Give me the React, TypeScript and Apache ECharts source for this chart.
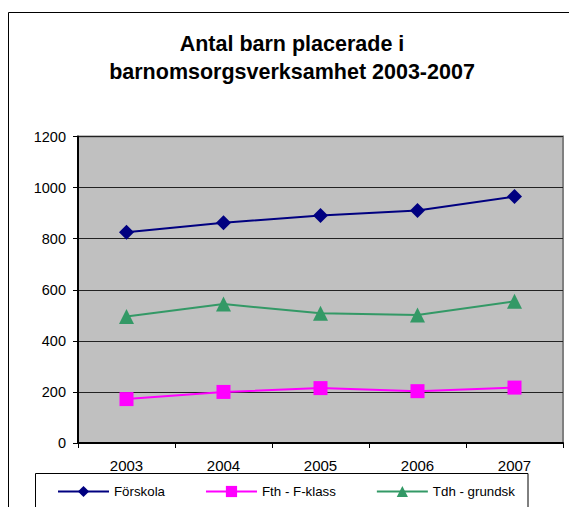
import React, { useEffect, useRef } from "react";
import * as echarts from "echarts";

const titleLines = ["Antal barn placerade i", "barnomsorgsverksamhet 2003-2007"];
const categories = ["2003", "2004", "2005", "2006", "2007"];
const forskola = [825, 863, 891, 911, 965];
const fthFklass = [172, 200, 215, 203, 217];
const tdhGrundsk = [495, 544, 508, 501, 555];
const seriesNames = ["Förskola", "Fth - F-klass", "Tdh - grundsk"];
const yMin = 0;
const yMax = 1200;
const yInterval = 200;

const FONT = "'Liberation Sans', Arial, sans-serif";

export default function App() {
  const ref = useRef<HTMLDivElement>(null);
  useEffect(() => {
    if (!ref.current) return;
    const chart = echarts.init(ref.current, null, { renderer: "svg" });
    chart.setOption({
      animation: false,
      backgroundColor: "#ffffff",
      textStyle: { fontFamily: FONT },
      title: {
        text: titleLines.join("\n"),
        left: 292,
        top: 30,
        padding: 0,
        textAlign: "center",
        textStyle: {
          fontFamily: FONT,
          fontSize: 21.5,
          fontWeight: "bold",
          color: "#000",
          lineHeight: 28,
        },
      },
      graphic: [
        {
          type: "rect",
          shape: { x: 8.5, y: 12.5, width: 620, height: 620 },
          style: { fill: "none", stroke: "#000", lineWidth: 1 },
          silent: true,
          z: 0,
        },
        {
          type: "rect",
          shape: { x: 35.5, y: 473.5, width: 492.5, height: 60 },
          style: { fill: "none", stroke: "#000", lineWidth: 1 },
          silent: true,
          z: 0,
        },
      ],
      legend: {
        left: 57,
        top: 485,
        padding: 0,
        itemWidth: 51,
        itemHeight: 14,
        itemGap: 40,
        textStyle: { fontFamily: FONT, fontSize: 13.3, color: "#000" },
        data: seriesNames,
      },
      grid: {
        left: 78,
        right: 6,
        top: 136.6,
        bottom: 64,
        show: true,
        backgroundColor: "#C0C0C0",
        borderColor: "#808080",
        borderWidth: 2,
      },
      xAxis: {
        type: "category",
        data: categories,
        boundaryGap: true,
        axisLine: { show: true, lineStyle: { color: "#000", width: 2 } },
        axisTick: { show: true, length: 5, inside: false, lineStyle: { color: "#000" } },
        axisLabel: { fontFamily: FONT, fontSize: 15, color: "#000", margin: 15 },
        splitLine: { show: false },
      },
      yAxis: {
        type: "value",
        min: yMin,
        max: yMax,
        interval: yInterval,
        axisLine: { show: true, lineStyle: { color: "#000", width: 2 } },
        axisTick: { show: true, length: 5, inside: false, lineStyle: { color: "#000" } },
        axisLabel: {
          fontFamily: FONT,
          fontSize: 14.5,
          color: "#000",
          margin: 12,
          formatter: (v: number) => String(v),
        },
        splitLine: { show: true, lineStyle: { color: "#222", width: 1 } },
      },
      series: [
        {
          name: seriesNames[0],
          type: "line",
          data: forskola,
          symbol: "diamond",
          symbolSize: 15,
          lineStyle: { color: "#000080", width: 2 },
          itemStyle: { color: "#000080" },
        },
        {
          name: seriesNames[1],
          type: "line",
          data: fthFklass,
          symbol: "rect",
          symbolSize: 14,
          lineStyle: { color: "#FF00FF", width: 2 },
          itemStyle: { color: "#FF00FF" },
        },
        {
          name: seriesNames[2],
          type: "line",
          data: tdhGrundsk,
          symbol: "triangle",
          symbolSize: 15,
          lineStyle: { color: "#339966", width: 2 },
          itemStyle: { color: "#339966" },
        },
      ],
    });
    return () => chart.dispose();
  }, []);
  return (
    <div
      ref={ref}
      style={{ position: "absolute", left: 0, top: 0, width: 569, height: 507 }}
    />
  );
}
